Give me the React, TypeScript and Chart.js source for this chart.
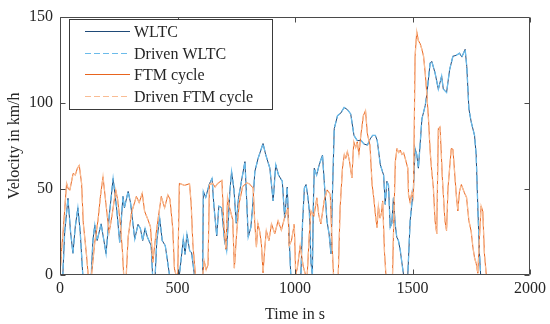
import React, { useEffect, useRef } from 'react';
import { Chart, registerables } from 'chart.js';

Chart.register(...registerables);

const FONT = '"Liberation Serif", "Times New Roman", serif';

// ---- data (time in s, velocity in km/h) ----
const wltcTime = [
  0, 12, 20, 34, 45, 55, 65, 76, 86, 97, 133, 140, 148, 158, 175, 196, 210, 226, 240, 254,
  268, 274, 290, 300, 318, 332, 342, 352, 362, 372, 388, 394, 405, 412, 424, 435, 448, 466, 508, 525,
  532, 540, 552, 560, 572, 607, 610, 620, 636, 647, 655, 667, 676, 688, 700, 709, 723, 730, 740, 750,
  760, 772, 787, 794, 801, 812, 820, 829, 843, 864, 875, 893, 907, 918, 930, 946, 956, 967, 975, 982,
  1025, 1032, 1040, 1047, 1055, 1061, 1068, 1074, 1078, 1082, 1092, 1103, 1117, 1124, 1136, 1145, 1153, 1160, 1167, 1181,
  1195, 1209, 1223, 1237, 1251, 1265, 1280, 1294, 1308, 1320, 1330, 1342, 1350, 1363, 1377, 1384, 1391, 1398, 1405, 1412,
  1419, 1426, 1433, 1440, 1448, 1455, 1462, 1480, 1490, 1504, 1511, 1518, 1525, 1532, 1540, 1554, 1561, 1575, 1582, 1596,
  1610, 1624, 1631, 1645, 1658, 1672, 1686, 1700, 1710, 1724, 1731, 1740, 1750, 1764, 1771, 1778, 1785, 1790, 1800,
];
const wltcSpeed = [
  0, 0, 25, 44.5, 25, 12.6, 28, 39, 25, 0, 0, 20, 29, 20, 29.7, 12.4, 35, 56, 40, 19,
  45.6, 39, 48.5, 42, 20.8, 29.4, 27, 20, 27, 22, 17, 0, 0, 20, 33, 20, 17, 0, 0, 21,
  12, 23.6, 14, 13, 0, 0, 48.5, 45, 53, 56, 40, 22.7, 40, 39, 20, 14, 48.6, 60, 50, 30,
  45, 54.4, 65.8, 44.8, 22, 27.6, 40, 60, 67.7, 76.3, 70, 62, 43, 64, 58, 54.4, 33, 51, 22, 0,
  0, 30, 50.5, 52.5, 45, 37, 7, 0, 40, 62, 58, 64, 69.6, 55, 31.5, 23.8, 12.4, 50.5, 85, 92.5,
  94, 97.3, 96, 93.5, 81, 78, 78.2, 76, 75.4, 79, 81, 81, 78, 64, 58, 41, 54.4, 52, 27.6, 30,
  44.8, 30, 22, 20, 14.3, 7, 0, 0, 31.5, 50.5, 73.4, 70, 62, 75, 90.6, 98.3, 105, 123, 124, 117.3,
  107.8, 115.5, 108, 105.9, 119.2, 127, 127.5, 128.8, 126.5, 131, 121, 96.4, 88.7, 81, 69.7, 39, 12.4, 0, 0,
];
const drivenWltcTime = wltcTime;
const drivenWltcSpeed = wltcSpeed;

const ftmTime = [
  0, 7, 14, 28, 35, 42, 56, 65, 74, 82, 92, 99, 113, 120, 134, 148, 162, 172, 183, 195,
  209, 222, 237, 245, 257, 266, 271, 282, 290, 304, 325, 337, 350, 360, 374, 385, 395, 405, 418, 431,
  445, 459, 468, 480, 487, 494, 501, 508, 530, 551, 558, 565, 576, 607, 614, 622, 630, 636, 650, 660,
  670, 689, 697, 706, 713, 720, 735, 742, 752, 763, 777, 794, 805, 822, 829, 836, 842, 850, 857, 864,
  871, 878, 889, 900, 914, 928, 942, 956, 970, 975, 985, 997, 1003, 1010, 1022, 1035, 1045, 1052, 1061, 1068,
  1080, 1093, 1101, 1110, 1124, 1137, 1150, 1158, 1164, 1184, 1192, 1202, 1210, 1216, 1223, 1232, 1242, 1250, 1258, 1265,
  1272, 1280, 1291, 1300, 1308, 1319, 1328, 1335, 1342, 1349, 1355, 1362, 1368, 1373, 1381, 1387, 1415, 1419, 1427, 1434,
  1441, 1448, 1455, 1462, 1469, 1480, 1483, 1490, 1497, 1504, 1511, 1518, 1525, 1532, 1540, 1547, 1554, 1561, 1568, 1575,
  1582, 1589, 1596, 1603, 1610, 1617, 1622, 1627, 1632, 1638, 1645, 1651, 1658, 1665, 1672, 1679, 1686, 1693, 1700, 1708,
  1720, 1730, 1740, 1750, 1757, 1764, 1771, 1778, 1785, 1792, 1799, 1806, 1814,
];
const ftmSpeed = [
  0, 15, 26.5, 53.2, 50, 49.4, 59, 58, 62, 63.7, 53, 30.3, 11.3, 0, 0, 19, 32, 45.6, 57, 42,
  24.6, 35, 49.4, 44, 29.4, 13, 0, 0, 22, 36, 45.6, 42, 47.5, 37, 32.2, 28, 7.4, 20, 33, 45.6,
  39, 46.5, 44, 26.5, 3.6, 0, 0, 53.2, 52, 53, 41.8, 19, 0, 0, 8, 3, 6, 52.5, 53.2, 51,
  53, 55, 30, 15, 45, 40, 32, 4, 25, 42, 51.3, 53.4, 53, 50.5, 29.6, 16.2, 30, 25, 18, 1.3,
  15, 25.8, 20, 29.6, 24, 31.5, 26, 33.4, 39, 17, 20, 29.6, 0, 4, 17, 5, 0, 0, 23.8, 37.2,
  34, 44.8, 35, 29.6, 43, 49.4, 46.8, 17, 0, 0, 39, 62, 70, 67.7, 71.6, 66, 56.3, 77.3, 74, 77.3,
  70, 81, 92.5, 95.4, 82, 75.4, 52.5, 45, 35.3, 27.6, 40, 33, 36, 43, 12.6, 0, 0, 23.8, 65.8, 73.4,
  71, 72.5, 70, 71, 67.7, 62, 46.8, 42, 48, 44.8, 127, 141.2, 136, 134.5, 131, 127, 117.3, 105, 90.6, 72,
  60, 50, 31.5, 23.8, 85, 86, 72, 56.3, 45, 31.5, 25.8, 50.5, 62, 73.4, 73, 60, 46.8, 37.2, 48.6, 52.5,
  48, 45, 31.5, 25, 16.2, 10, 6.7, 1, 22, 40, 37, 12.4, 0,
];
const drivenFtmTime = ftmTime;
const drivenFtmSpeed = ftmSpeed;

const seriesLabels = ['WLTC', 'Driven WLTC', 'FTM cycle', 'Driven FTM cycle'];
const xMin = 0, xMax = 2000, xStep = 500;
const yMin = 0, yMax = 150, yStep = 50;

const COLORS = ['#1F4A78', '#6BBBEA', '#E8641E', '#F9BC94'];
const WIDTHS = [1.0, 1.3, 1.0, 1.3];
const DASH = [6, 3];

const toPoints = (t: number[], v: number[]) => t.map((x, i) => ({ x, y: v[i] }));

const framePlugin = {
  id: 'frame',
  afterDatasetsDraw(chart: any) {
    const { ctx, chartArea } = chart;
    const { left, right, top, bottom } = chartArea;
    const xs = chart.scales.x;
    const ys = chart.scales.y;
    const L = Math.round(left) + 0.5;
    const R = Math.round(right) - 0.5;
    const T = Math.round(top) + 0.5;
    const B = Math.round(bottom) - 0.5;
    ctx.save();
    ctx.strokeStyle = '#4a4a4a';
    ctx.lineWidth = 1;
    ctx.setLineDash([]);
    ctx.beginPath();
    ctx.rect(L, T, R - L, B - T);
    const tl = 5;
    xs.ticks.forEach((t: any) => {
      const px = Math.round(xs.getPixelForValue(t.value)) + 0.5;
      ctx.moveTo(px, B);
      ctx.lineTo(px, B - tl);
      ctx.moveTo(px, T);
      ctx.lineTo(px, T + tl);
    });
    ys.ticks.forEach((t: any) => {
      const py = Math.round(ys.getPixelForValue(t.value)) + 0.5;
      ctx.moveTo(L, py);
      ctx.lineTo(L + tl, py);
      ctx.moveTo(R, py);
      ctx.lineTo(R - tl, py);
    });
    ctx.stroke();

    // legend box inside the axes
    const bx = 69.5, by = 19.5, bw = 203, bh = 90;
    ctx.fillStyle = '#ffffff';
    ctx.fillRect(bx, by, bw, bh);
    ctx.strokeStyle = '#3a3a3a';
    ctx.lineWidth = 1;
    ctx.strokeRect(bx, by, bw, bh);
    const rowY = [31, 53, 74, 96];
    seriesLabels.forEach((label, i) => {
      const y = rowY[i] + 0.5;
      ctx.beginPath();
      ctx.strokeStyle = COLORS[i];
      ctx.lineWidth = 1.2;
      ctx.setLineDash(i % 2 === 1 ? DASH : []);
      ctx.moveTo(85, y);
      ctx.lineTo(130, y);
      ctx.stroke();
      ctx.setLineDash([]);
      ctx.fillStyle = '#262626';
      ctx.font = `16px ${FONT}`;
      ctx.textBaseline = 'alphabetic';
      ctx.textAlign = 'left';
      ctx.fillText(label, 134, rowY[i] + 5.5);
    });
    ctx.restore();
  },
};

export default function App() {
  const ref = useRef<HTMLCanvasElement>(null);
  useEffect(() => {
    document.body.style.margin = '0';
    const series = [
      toPoints(wltcTime, wltcSpeed),
      toPoints(drivenWltcTime, drivenWltcSpeed),
      toPoints(ftmTime, ftmSpeed),
      toPoints(drivenFtmTime, drivenFtmSpeed),
    ];
    const chart = new Chart(ref.current as HTMLCanvasElement, {
      type: 'line',
      data: {
        datasets: series.map((data, i) => ({
          label: seriesLabels[i],
          data,
          borderColor: COLORS[i],
          backgroundColor: COLORS[i],
          borderWidth: WIDTHS[i],
          borderDash: i % 2 === 1 ? DASH : [],
          pointRadius: 0,
          tension: 0,
          fill: false,
          order: 4 - i,
        })),
      },
      options: {
        responsive: false,
        animation: false,
        events: [],
        layout: { padding: { top: 13, right: 18, left: 0, bottom: 0 } },
        plugins: {
          legend: { display: false },
          tooltip: { enabled: false },
        },
        scales: {
          x: {
            type: 'linear',
            min: xMin,
            max: xMax,
            ticks: {
              stepSize: xStep,
              color: '#262626',
              font: { family: FONT, size: 16 },
              padding: 4,
              maxRotation: 0,
              callback: (v: any) => String(v),
            },
            grid: { display: false, drawTicks: false },
            border: { display: false },
            title: {
              display: true,
              text: 'Time in s',
              color: '#262626',
              font: { family: FONT, size: 16 },
              padding: { top: 0, bottom: 0 },
            },
            afterFit: (s: any) => {
              s.height = 49;
            },
          },
          y: {
            type: 'linear',
            min: yMin,
            max: yMax,
            ticks: {
              stepSize: yStep,
              color: '#262626',
              font: { family: FONT, size: 16 },
              padding: 7,
              callback: (v: any) => String(v),
            },
            grid: { display: false, drawTicks: false },
            border: { display: false },
            title: {
              display: true,
              text: 'Velocity in km/h',
              color: '#262626',
              font: { family: FONT, size: 16 },
              padding: { top: 5, bottom: 0 },
            },
            afterFit: (s: any) => {
              s.width = 60;
            },
          },
        },
      },
      plugins: [framePlugin],
    });
    return () => chart.destroy();
  }, []);
  return (
    <div style={{ width: 550, height: 324 }}>
      <canvas ref={ref} width={550} height={324} style={{ display: 'block' }} />
    </div>
  );
}
